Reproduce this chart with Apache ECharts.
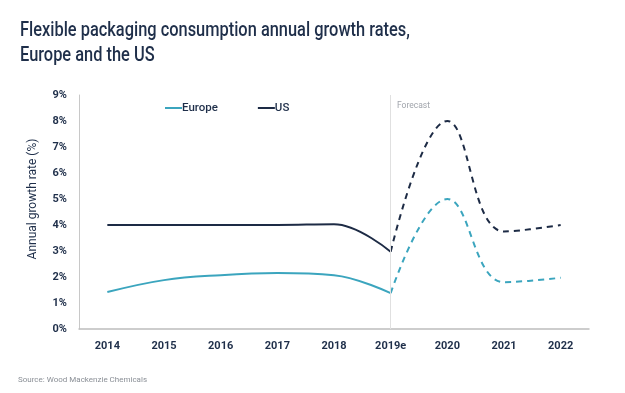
<!DOCTYPE html>
<html><head><meta charset="utf-8">
<script src="https://cdn.jsdelivr.net/npm/echarts@6/dist/echarts.min.js"></script>
<style>html,body{margin:0;padding:0;background:#fff}#c{width:625px;height:393px}</style>
</head><body><div id="c"></div>
<script>
const categories = ['2014','2015','2016','2017','2018','2019e','2020','2021','2022'];
const europeActual = [1.42, 1.88, 2.07, 2.15, 2.07, 1.38, null, null, null];
const europeForecast = [null, null, null, null, null, 1.38, 5.0, 1.8, 1.97];
const usActual = [4.0, 4.0, 4.0, 4.0, 4.03, 2.97, null, null, null];
const usForecast = [null, null, null, null, null, 2.97, 8.0, 3.75, 4.0];
const yTicks = [0,1,2,3,4,5,6,7,8,9];

const EU = '#3ba5be', US = '#1d2b45', NAVY = '#1f2f4a';
const chart = echarts.init(document.getElementById('c'));
chart.setOption({
  animation: false,
  textStyle: {fontFamily: 'Roboto'},
  legend: {
    top: 97, left: 160, itemGap: 40,
    data: [{name: 'Europe'}, {name: 'US'}],
    icon: 'rect', itemWidth: 17, itemHeight: 2,
    textStyle: {fontSize: 11.5, color: NAVY, fontWeight: 500, padding: [0,0,0,-5]}
  },
  grid: {left: 79, right: 36, top: 95, bottom: 64},
  xAxis: {
    type: 'category', data: categories, boundaryGap: true,
    axisLine: {lineStyle: {color: '#bdbdbd', width: 1.5}},
    axisTick: {show: false},
    axisLabel: {color: NAVY, fontSize: 11, fontWeight: 'bold', margin: 12}
  },
  yAxis: {
    type: 'value', min: yTicks[0], max: yTicks[yTicks.length-1], interval: 1,
    name: 'Annual growth rate (%)', nameLocation: 'middle', nameGap: 40,
    nameTextStyle: {color: NAVY, fontSize: 12, padding: [0,0,0,26]},
    axisLine: {show: true, lineStyle: {color: '#c8c8c8'}},
    axisTick: {show: false},
    splitLine: {show: false},
    axisLabel: {color: NAVY, fontSize: 11, fontWeight: 'bold', margin: 12, formatter: '{value}%'}
  },
  series: [
    {name: 'Europe', type: 'line', data: europeActual, smooth: 0.4, showSymbol: false,
      lineStyle: {color: EU, width: 2}, itemStyle: {color: EU},
      markLine: {silent: true, symbol: 'none', label: {show: false},
        lineStyle: {color: '#e0e0e0', width: 1, type: 'solid'},
        data: [{xAxis: '2019e'}]}},
    {name: 'Europe', type: 'line', data: europeForecast, smooth: 0.42, showSymbol: false,
      lineStyle: {color: EU, width: 2, type: [6,5]}, itemStyle: {color: EU}},
    {name: 'US', type: 'line', data: usActual, smooth: 0.4, showSymbol: false,
      lineStyle: {color: US, width: 2}, itemStyle: {color: US}},
    {name: 'US', type: 'line', data: usForecast, smooth: 0.42, showSymbol: false,
      lineStyle: {color: US, width: 2, type: [6,5]}, itemStyle: {color: US}}
  ],
  graphic: [
    {type: 'text', x: 20, y: 18, scaleX: 0.82, style: {
      text: 'Flexible packaging consumption annual growth rates,\nEurope and the US',
      fill: NAVY, font: '500 20px Roboto', lineHeight: 25}},
    {type: 'text', left: 397, top: 101, style: {text: 'Forecast', fill: '#a0a4ab', fontSize: 8.5, fontFamily: 'Roboto'}},
    {type: 'text', left: 18, top: 376, style: {text: 'Source: Wood Mackenzie Chemicals', fill: '#8a8f96', fontSize: 8, fontFamily: 'Roboto'}}
  ]
});
</script></body></html>
